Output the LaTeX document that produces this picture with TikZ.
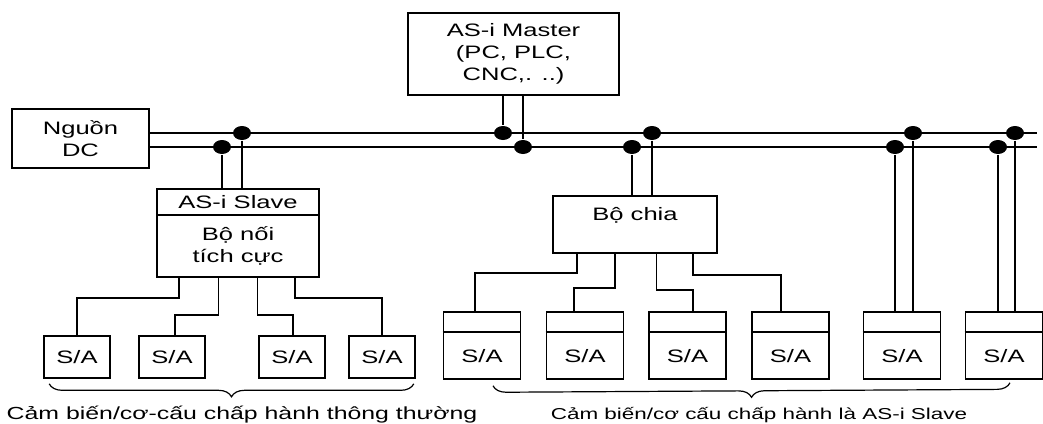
\documentclass[tikz,border=0pt]{standalone}
\usepackage{fontspec}
\setmainfont{Liberation Sans}[FakeStretch=1.42]
\usepackage{tikz}
\usetikzlibrary{positioning,calc,shapes.geometric,decorations.pathreplacing}

\begin{document}
\begin{tikzpicture}[
  x=1pt,y=-1pt,
  font=\fontsize{18}{22}\selectfont,
  line width=1.6pt,
  box/.style={draw,rectangle,inner sep=0pt,align=center},
  sabox/.style={box,minimum width=66pt,minimum height=42pt},
  slbox/.style={box,minimum width=77pt,minimum height=67pt},
  dot/.style={ellipse,fill=black,inner sep=0pt,minimum width=18pt,minimum height=14pt},
  brace/.style={decorate,decoration={brace,mirror,amplitude=13pt},line width=1.2pt},
  captxt/.style={font=\fontsize{15.8}{18}\selectfont}
]
\useasboundingbox (0,0) rectangle (1043,423);

\node[box,minimum width=137pt,minimum height=59pt] (dc) at (80.5,138.5) {Nguồn\\DC};
\node[box,minimum width=211pt,minimum height=82pt] (master) at (513.5,54) {AS-i Master\\(PC, PLC,\\CNC,. ..)};

\coordinate (busT) at (1037,133);
\coordinate (busB) at (1037,147);
\draw (dc.east |- busT) -- (busT);
\draw (dc.east |- busB) -- (busB);

\node[dot] (jl1) at (222,147) {};
\node[dot] (jl2) at (242,133) {};
\node[dot] (jm1) at (503,133) {};
\node[dot] (jm2) at (523,147) {};
\node[dot] (jc1) at (632,147) {};
\node[dot] (jc2) at (652,133) {};
\node[dot] (je1) at (895,147) {};
\node[dot] (je2) at (913,133) {};
\node[dot] (jf1) at (998,147) {};
\node[dot] (jf2) at (1015,133) {};

% left: active coupler
\node[box,minimum width=162pt,minimum height=88pt] (slave) at (238,233) {};
\draw ([yshift=-27pt]slave.north west) -- ([yshift=-27pt]slave.north east);
\node (slavehd) at (238,202.5) {AS-i Slave};
\node[align=center] (slavetx) at (238,246) {Bộ nối\\tích cực};

\draw (jm1 |- master.south) -- (jm1);
\draw (jm2 |- master.south) -- (jm2);
\draw (jl1) -- (jl1 |- slave.north);
\draw (jl2) -- (jl2 |- slave.north);

\foreach \n/\x in {1/77,2/172,3/292,4/382}{
  \node[sabox] (s\n) at (\x,357) {S/A};
}
\foreach \f/\y/\x/\t in {0.14/298/77/s1,0.38/315/175/s2,0.62/315/293/s3,0.85/298/382/s4}{
  \coordinate (o) at ($(slave.south west)!\f!(slave.south east)$);
  \draw (o) -- (o |- 0,\y) -- (\x,\y) -- (\t.north -| \x,0);
}

% right: splitter and slaves
\node[box,minimum width=164pt,minimum height=57pt] (split) at (635,224.5) {};
\node (splittx) at (635,215) {Bộ chia};
\draw (jc1) -- (jc1 |- split.north);
\draw (jc2) -- (jc2 |- split.north);

\foreach \n/\x in {A/482,B/585,C/687.5,D/790.5,E/902,F/1004}{
  \node[slbox] (s\n) at (\x,345.5) {};
  \draw ([yshift=-21pt]s\n.north west) -- ([yshift=-21pt]s\n.north east);
  \node (t\n) at (\x,356) {S/A};
}
\foreach \f/\y/\x/\t in {0.15/273/475/sA,0.38/288/574/sB,0.63/290/693/sC,0.85/275/781/sD}{
  \coordinate (o) at ($(split.south west)!\f!(split.south east)$);
  \draw (o) -- (o |- 0,\y) -- (\x,\y) -- (\t.north -| \x,0);
}
\draw (je1) -- (je1 |- sE.north);
\draw (je2) -- (je2 |- sE.north);
\draw (jf1) -- (jf1 |- sF.north);
\draw (jf2) -- (jf2 |- sF.north);

\draw[brace] ([xshift=6pt,yshift=-5pt]s1.south west) -- ([xshift=-2pt,yshift=-5pt]s4.south east);
\draw[brace] ([xshift=11pt,yshift=-6pt]sA.south) -- ([xshift=6pt,yshift=-3pt]sF.south);
\node[captxt,font=\fontsize{17.5}{20}\selectfont] (capl) at (242,415) {Cảm biến/cơ-cấu chấp hành thông thường};
\node[captxt] (capr) at (759,415) {Cảm biến/cơ cấu chấp hành là AS-i Slave};
\end{tikzpicture}
\end{document}
